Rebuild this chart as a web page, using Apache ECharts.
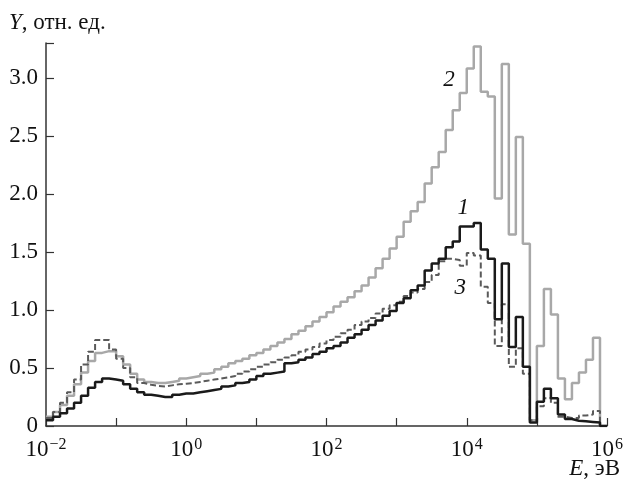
<!DOCTYPE html>
<html>
<head>
<meta charset="utf-8">
<script src="https://cdn.jsdelivr.net/npm/echarts@6/dist/echarts.min.js"></script>
<style>html,body{margin:0;padding:0;background:#fff}#c{width:626px;height:484px}</style>
</head>
<body>
<div id="c"></div>
<script>
// Histogram bins: 10 per decade, from 10^-2 eV to 10^6 eV
const logMin = -2;
const logMax = 6;
const binsPerDecade = 10;

// Series 1 (black solid)
const series1 = [
 0.05,0.08,0.11,0.15,0.20,0.26,0.33,0.38,0.41,0.40,
 0.39,0.36,0.32,0.29,0.27,0.26,0.25,0.25,0.27,0.28,
 0.28,0.29,0.30,0.31,0.32,0.34,0.35,0.37,0.38,0.40,
 0.43,0.45,0.46,0.47,0.54,0.55,0.57,0.59,0.62,0.64,
 0.67,0.69,0.72,0.76,0.79,0.83,0.87,0.91,0.95,0.99,
 1.06,1.10,1.17,1.21,1.34,1.40,1.44,1.54,1.59,1.72,
 1.72,1.75,1.52,1.44,0.92,1.40,0.68,0.94,0.51,0.03,
 0.21,0.32,0.24,0.10,0.06,0.045,0.04,0.035,0.03,0
];
// Series 2 (light gray solid)
const series2 = [
 0.08,0.12,0.18,0.26,0.36,0.46,0.56,0.63,0.645,0.645,
 0.60,0.53,0.45,0.40,0.38,0.37,0.37,0.38,0.39,0.41,
 0.42,0.43,0.45,0.46,0.49,0.51,0.54,0.56,0.58,0.61,
 0.63,0.66,0.69,0.72,0.75,0.79,0.82,0.86,0.90,0.94,
 0.98,1.03,1.07,1.11,1.16,1.21,1.28,1.36,1.44,1.53,
 1.63,1.76,1.85,1.93,2.09,2.23,2.36,2.55,2.72,2.87,
 3.08,3.27,2.88,2.84,1.96,3.12,1.65,2.49,1.57,0.05,
 0.69,1.18,0.96,0.41,0.23,0.37,0.46,0.57,0.76,0
];
// Series 3 (dark gray dashed)
const series3 = [
 0.07,0.12,0.20,0.29,0.40,0.53,0.64,0.74,0.74,0.66,
 0.58,0.50,0.42,0.37,0.355,0.345,0.34,0.35,0.36,0.365,
 0.37,0.38,0.39,0.40,0.41,0.42,0.43,0.45,0.47,0.49,
 0.51,0.53,0.55,0.57,0.59,0.61,0.64,0.66,0.68,0.71,
 0.74,0.77,0.80,0.83,0.87,0.90,0.93,0.97,1.01,1.04,
 1.07,1.12,1.15,1.18,1.24,1.30,1.42,1.44,1.43,1.38,
 1.49,1.47,1.20,1.06,0.69,1.05,0.51,0.67,0.45,0.05,
 0.17,0.24,0.20,0.08,0.07,0.07,0.09,0.10,0.13,0
];
const yTicks = [0, 0.5, 1.0, 1.5, 2.0, 2.5, 3.0];
const curveLabels = [
  {name: '1', E: 8900, Y: 1.88},
  {name: '2', E: 5600, Y: 2.98},
  {name: '3', E: 8100, Y: 1.19}
];

function toSteps(vals) {
  const pts = [];
  for (let i = 0; i < vals.length; i++) {
    pts.push([Math.pow(10, logMin + i / binsPerDecade), vals[i]]);
  }
  pts.push([Math.pow(10, logMin + vals.length / binsPerDecade), vals[vals.length - 1]]);
  return pts;
}

const FONT = '"Times New Roman", "Liberation Serif", Times, serif';
const FS = 23;

function lbl(name) {
  const c = curveLabels.find(d => d.name === name);
  return {
    silent: true,
    symbol: 'circle', symbolSize: 1,
    itemStyle: {color: 'rgba(0,0,0,0)'},
    data: [{coord: [c.E, c.Y]}],
    label: {show: true, position: 'inside', formatter: name, color: '#111',
      fontFamily: FONT, fontStyle: 'italic', fontSize: FS}
  };
}

const chart = echarts.init(document.getElementById('c'), null, {renderer: 'canvas'});
chart.setOption({
  animation: false,
  backgroundColor: '#fff',
  textStyle: {fontFamily: FONT},
  grid: {left: 46, right: 19, top: 43, bottom: 58, containLabel: false},
  xAxis: {
    type: 'log', logBase: 10,
    min: Math.pow(10, logMin), max: Math.pow(10, logMax),
    splitNumber: 8,
    axisLine: {show: true, lineStyle: {color: '#333', width: 1.5}},
    axisTick: {show: true, inside: true, length: 8, lineStyle: {color: '#333', width: 1.2}},
    minorTick: {show: false},
    splitLine: {show: false},
    axisLabel: {
      margin: 11,
      fontFamily: FONT,
      formatter: function (v) {
        const e = Math.round(Math.log10(v));
        if (e % 2 !== 0) return '';
        return '{b|10}{s|' + (e < 0 ? '\u2212' + (-e) : e) + '}';
      },
      rich: {
        b: {fontFamily: FONT, fontSize: FS, color: '#111', verticalAlign: 'bottom', height: 26, lineHeight: 26},
        s: {fontFamily: FONT, fontSize: 16, color: '#111', verticalAlign: 'bottom', lineHeight: 16, padding: [0, 0, 10, 1]}
      }
    }
  },
  yAxis: {
    type: 'value', min: 0, max: 3.3, interval: 0.5,
    axisLine: {show: true, lineStyle: {color: '#333', width: 1.5}},
    axisTick: {show: true, inside: true, length: 8, lineStyle: {color: '#333', width: 1.2}},
    splitLine: {show: false},
    axisLabel: {
      margin: 8, color: '#111', fontFamily: FONT, fontSize: FS,
      formatter: function (v) {
        const t = yTicks.find(x => Math.abs(x - v) < 1e-6);
        if (t === undefined) return '';
        return t === 0 ? '0' : t.toFixed(1);
      }
    }
  },
  graphic: [
    {type: 'text', left: 9, top: 11, style: {
      text: '{i|Y}{r|, отн. ед.}', fill: '#111',
      rich: {
        i: {fontStyle: 'italic', fontFamily: FONT, fontSize: FS, fill: '#111'},
        r: {fontFamily: FONT, fontSize: FS, fill: '#111'}
      }
    }},
    {type: 'text', right: 6, bottom: 4, style: {
      text: '{i|E}{r|, эВ}', fill: '#111',
      rich: {
        i: {fontStyle: 'italic', fontFamily: FONT, fontSize: FS, fill: '#111'},
        r: {fontFamily: FONT, fontSize: FS, fill: '#111'}
      }
    }}
  ],
  series: [
    {type: 'line', name: '2', step: 'end', data: toSteps(series2), showSymbol: false, symbol: 'none',
      lineStyle: {color: '#a8a8a8', width: 2.5}, markPoint: lbl('2'), z: 2},
    {type: 'line', name: '3', step: 'end', data: toSteps(series3), showSymbol: false, symbol: 'none',
      lineStyle: {color: '#5a5a5a', width: 2, type: [6, 3]}, markPoint: lbl('3'), z: 3},
    {type: 'line', name: '1', step: 'end', data: toSteps(series1), showSymbol: false, symbol: 'none',
      lineStyle: {color: '#1a1a1a', width: 2.5}, markPoint: lbl('1'), z: 4}
  ]
});
</script>
</body>
</html>
